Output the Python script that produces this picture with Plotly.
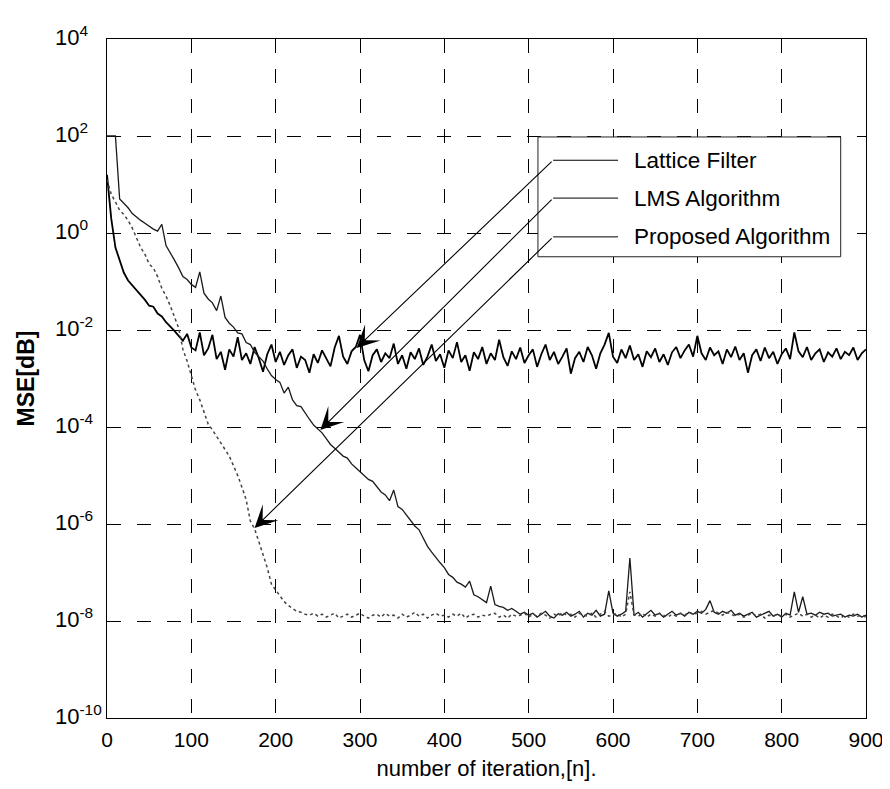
import plotly.graph_objects as go

# ---------------- data (log10 of MSE, read every 5 iterations) ----------------
lattice_log10_mse = [
    1.20, 0.30, -0.30, -0.56, -0.82, -0.98, -1.08, -1.16, -1.26, -1.38,
    -1.50, -1.52, -1.66, -1.72, -1.84, -1.92, -2.02, -2.12, -2.22, -2.08,
    -2.36, -2.42, -2.05, -2.52, -2.38, -2.10, -2.60, -2.45, -2.82, -2.40,
    -2.55, -2.15, -2.62, -2.48, -2.70, -2.35, -2.58, -2.86, -2.50, -2.30,
    -2.66, -2.45, -2.72, -2.52, -2.40, -2.78, -2.55, -2.62, -2.88, -2.50,
    -2.68, -2.42, -2.60, -2.75, -2.36, -2.12, -2.55, -2.70, -2.44, -2.35,
    -2.10, -2.62, -2.85, -2.52, -2.40, -2.66, -2.48, -2.58, -2.28, -2.70,
    -2.52, -2.80, -2.46, -2.60, -2.38, -2.72, -2.55, -2.30, -2.64, -2.50,
    -2.78, -2.42, -2.58, -2.25, -2.66, -2.52, -2.84, -2.46, -2.60, -2.35,
    -2.70, -2.48, -2.62, -2.20, -2.56, -2.74, -2.44, -2.60, -2.36, -2.68,
    -2.52, -2.40, -2.76, -2.50, -2.30, -2.62, -2.45, -2.70, -2.55, -2.38,
    -2.90, -2.58, -2.45, -2.66, -2.35, -2.52, -2.80, -2.48, -2.30, -2.06,
    -2.55, -2.68, -2.40, -2.58, -2.32, -2.62, -2.50, -2.76, -2.44, -2.56,
    -2.38, -2.66, -2.50, -2.72, -2.46, -2.35, -2.58, -2.42, -2.30, -2.55,
    -2.12, -2.48, -2.62, -2.36, -2.52, -2.44, -2.70, -2.40, -2.56, -2.34,
    -2.62, -2.48, -2.88, -2.52, -2.40, -2.64, -2.36, -2.58, -2.45, -2.70,
    -2.50, -2.38, -2.60, -2.05, -2.44, -2.56, -2.35, -2.62, -2.48, -2.40,
    -2.66, -2.46, -2.55, -2.38, -2.60, -2.45, -2.52, -2.36, -2.62, -2.48,
    -2.40,
]

lms_log10_mse = [
    2.00, 2.00, 2.00, 0.70, 0.62, 0.52, 0.40, 0.32, 0.26, 0.20,
    0.14, 0.08, 0.04, 0.18, -0.26, -0.40, -0.56, -0.72, -0.90, -0.96,
    -1.06, -1.12, -0.80, -1.24, -1.36, -1.44, -1.60, -1.30, -1.74, -1.86,
    -1.94, -2.06, -2.08, -2.26, -2.30, -2.46, -2.56, -2.64, -2.80, -2.94,
    -3.02, -3.08, -3.30, -3.18, -3.44, -3.56, -3.58, -3.72, -3.84, -3.96,
    -4.04, -4.12, -4.24, -4.36, -4.44, -4.52, -4.60, -4.64, -4.76, -4.84,
    -4.92, -5.00, -5.08, -5.12, -5.24, -5.34, -5.40, -5.52, -5.30, -5.64,
    -5.70, -5.82, -5.94, -6.04, -6.12, -6.30, -6.46, -6.58, -6.70, -6.80,
    -6.90, -7.04, -7.10, -7.20, -7.24, -7.30, -7.18, -7.46, -7.50, -7.56,
    -7.62, -7.28, -7.66, -7.70, -7.72, -7.78, -7.74, -7.80, -7.86, -7.82,
    -7.88, -7.84, -7.92, -7.86, -7.80, -7.90, -7.94, -7.85, -7.88, -7.82,
    -7.90, -7.86, -7.80, -7.92, -7.84, -7.88, -7.78, -7.90, -7.86, -7.38,
    -7.84, -7.90, -7.86, -7.80, -6.70, -7.88, -7.82, -7.92, -7.84, -7.78,
    -7.88, -7.84, -7.92, -7.86, -7.80, -7.88, -7.84, -7.90, -7.82, -7.86,
    -7.80, -7.84, -7.76, -7.58, -7.82, -7.86, -7.80, -7.84, -7.78, -7.88,
    -7.84, -7.90, -7.86, -7.82, -7.92, -7.88, -7.84, -7.80, -7.90, -7.86,
    -7.92, -7.84, -7.88, -7.40, -7.82, -7.50, -7.86, -7.84, -7.88, -7.82,
    -7.86, -7.84, -7.90, -7.88, -7.86, -7.92, -7.88, -7.90, -7.86, -7.92,
    -7.88,
]

proposed_log10_mse = [
    1.10, 0.80, 0.64, 0.47, 0.38, 0.26, 0.10, -0.12, -0.30, -0.44,
    -0.64, -0.72, -0.90, -1.14, -1.30, -1.50, -1.74, -1.96, -2.40, -2.64,
    -2.94, -3.24, -3.44, -3.70, -3.94, -4.06, -4.20, -4.34, -4.46, -4.60,
    -4.80, -5.00, -5.24, -5.50, -5.94, -6.10, -6.36, -6.64, -6.90, -7.24,
    -7.36, -7.50, -7.60, -7.68, -7.74, -7.80, -7.82, -7.86, -7.88, -7.84,
    -7.90, -7.86, -7.92, -7.88, -7.84, -7.94, -7.90, -7.86, -7.92, -7.88,
    -7.84, -7.90, -7.94, -7.88, -7.86, -7.92, -7.84, -7.90, -7.88, -7.94,
    -7.86, -7.92, -7.88, -7.82, -7.90, -7.86, -7.94, -7.88, -7.84, -7.90,
    -7.88, -7.92, -7.86, -7.90, -7.84, -7.94, -7.88, -7.86, -7.92, -7.88,
    -7.90, -7.86, -7.84, -7.92, -7.88, -7.94, -7.86, -7.90, -7.88, -7.84,
    -7.92, -7.86, -7.90, -7.84, -7.88, -7.94, -7.86, -7.90, -7.82, -7.88,
    -7.86, -7.92, -7.84, -7.88, -7.90, -7.84, -7.92, -7.86, -7.80, -7.90,
    -7.88, -7.84, -7.92, -7.86, -7.40, -7.88, -7.90, -7.84, -7.92, -7.86,
    -7.90, -7.84, -7.88, -7.92, -7.86, -7.90, -7.84, -7.88, -7.82, -7.86,
    -7.84, -7.80, -7.86, -7.82, -7.78, -7.84, -7.88, -7.82, -7.86, -7.90,
    -7.86, -7.92, -7.88, -7.84, -7.90, -7.86, -7.94, -7.88, -7.90, -7.86,
    -7.90, -7.86, -7.92, -7.88, -7.84, -7.90, -7.86, -7.92, -7.88, -7.94,
    -7.88, -7.92, -7.86, -7.90, -7.94, -7.88, -7.92, -7.86, -7.90, -7.88,
    -7.92,
]

iteration_step = 5
series_names = ["Lattice Filter", "LMS Algorithm", "Proposed Algorithm"]

x_tick_values = [0, 100, 200, 300, 400, 500, 600, 700, 800, 900]
y_tick_exponents = [4, 2, 0, -2, -4, -6, -8, -10]

# arrow targets on each curve (iteration, log10 MSE) and arrow tails at the legend
arrow_tip_iteration = [296, 253, 175]
arrow_tip_log10 = [-2.37, -4.06, -6.08]
arrow_tail_iteration = [529, 529, 529]
arrow_tail_log10 = [1.50, 0.72, -0.08]

# ---------------- figure ----------------
FONT = "Liberation Sans, Arial, Helvetica, sans-serif"
X_RANGE = (0, 900)
Y_RANGE = (-10, 4)
PLOT_W = 759  # plot area width in px (used for label offsets left of the axis)


def to_paper_x(v):
    return (v - X_RANGE[0]) / (X_RANGE[1] - X_RANGE[0])


def to_paper_y(lv):
    return (lv - Y_RANGE[0]) / (Y_RANGE[1] - Y_RANGE[0])


def series(values):
    xs = [i * iteration_step for i in range(len(values))]
    ys = [10 ** v for v in values]
    return xs, ys


fig = go.Figure()

styles = [
    dict(color="#000000", width=1.8, dash="solid"),
    dict(color="#1a1a1a", width=1.3, dash="solid"),
    dict(color="#444444", width=1.5, dash="dot"),
]
for name, vals, st in zip(series_names,
                          [lattice_log10_mse, lms_log10_mse, proposed_log10_mse],
                          styles):
    xs, ys = series(vals)
    fig.add_trace(go.Scatter(x=xs, y=ys, mode="lines", name=name,
                             line=st, showlegend=False))

grid_common = dict(showgrid=True, gridcolor="#000000", gridwidth=1,
                   griddash="14px,16px", showline=True, linecolor="#000000",
                   linewidth=1, mirror=True, ticks="", zeroline=False,
                   automargin=False)

fig.update_xaxes(range=list(X_RANGE), tickvals=x_tick_values,
                 ticktext=[str(v) for v in x_tick_values],
                 tickfont=dict(family=FONT, size=21, color="#000"),
                 ticklabelstandoff=3, ticklabeloverflow="allow",
                 title=dict(text="number of iteration,[n].",
                            font=dict(family=FONT, size=22, color="#000"),
                            standoff=10),
                 **grid_common)

# y tick labels are left-aligned (MATLAB style), so they are written as text
# next to the axis at each decade
fig.update_yaxes(type="log", range=list(Y_RANGE),
                 tickvals=[10 ** e for e in y_tick_exponents],
                 showticklabels=False,
                 title=dict(text="<b>MSE[dB]</b>",
                            font=dict(family=FONT, size=23, color="#000"),
                            standoff=64),
                 **grid_common)

annotations = []
for e in y_tick_exponents:
    annotations.append(dict(xref="paper", yref="y", x=-54 / PLOT_W, y=e,
                            text="10<sup>%d</sup>" % e, showarrow=False,
                            xanchor="left", yanchor="middle", yshift=3,
                            font=dict(family=FONT, size=22, color="#000")))

# legend box (drawn manually, with leader arrows like the original)
box_x0, box_x1 = to_paper_x(511), to_paper_x(870)
box_y0, box_y1 = to_paper_y(-0.49), to_paper_y(1.98)
shapes = [dict(type="rect", xref="paper", yref="paper",
               x0=box_x0, x1=box_x1, y0=box_y0, y1=box_y1,
               fillcolor="white", line=dict(color="#222", width=1),
               layer="above")]
for name, tx, ty, hx, hy in zip(series_names, arrow_tail_iteration, arrow_tail_log10,
                                arrow_tip_iteration, arrow_tip_log10):
    py = to_paper_y(ty)
    shapes.append(dict(type="line", xref="paper", yref="paper",
                       x0=to_paper_x(tx), x1=to_paper_x(606), y0=py, y1=py,
                       line=dict(color="#000", width=1), layer="above"))
    annotations.append(dict(xref="paper", yref="paper", x=to_paper_x(623), y=py,
                            text=name, showarrow=False, xanchor="left",
                            yanchor="middle",
                            font=dict(family=FONT, size=22.5, color="#000")))
    annotations.append(dict(x=hx, y=hy, xref="x", yref="y", ax=tx, ay=ty,
                            axref="x", ayref="y", text="", showarrow=True,
                            arrowhead=3, arrowsize=3.4, arrowwidth=1.1,
                            arrowcolor="#000", standoff=0))

# the page adds an 8 px body margin, so the figure sits 8 px in from the corner
fig.update_layout(width=882, height=781,
                  margin=dict(l=99, r=24, t=31, b=71),
                  paper_bgcolor="white", plot_bgcolor="white",
                  shapes=shapes, annotations=annotations,
                  showlegend=False)

fig.write_html("out.html")
